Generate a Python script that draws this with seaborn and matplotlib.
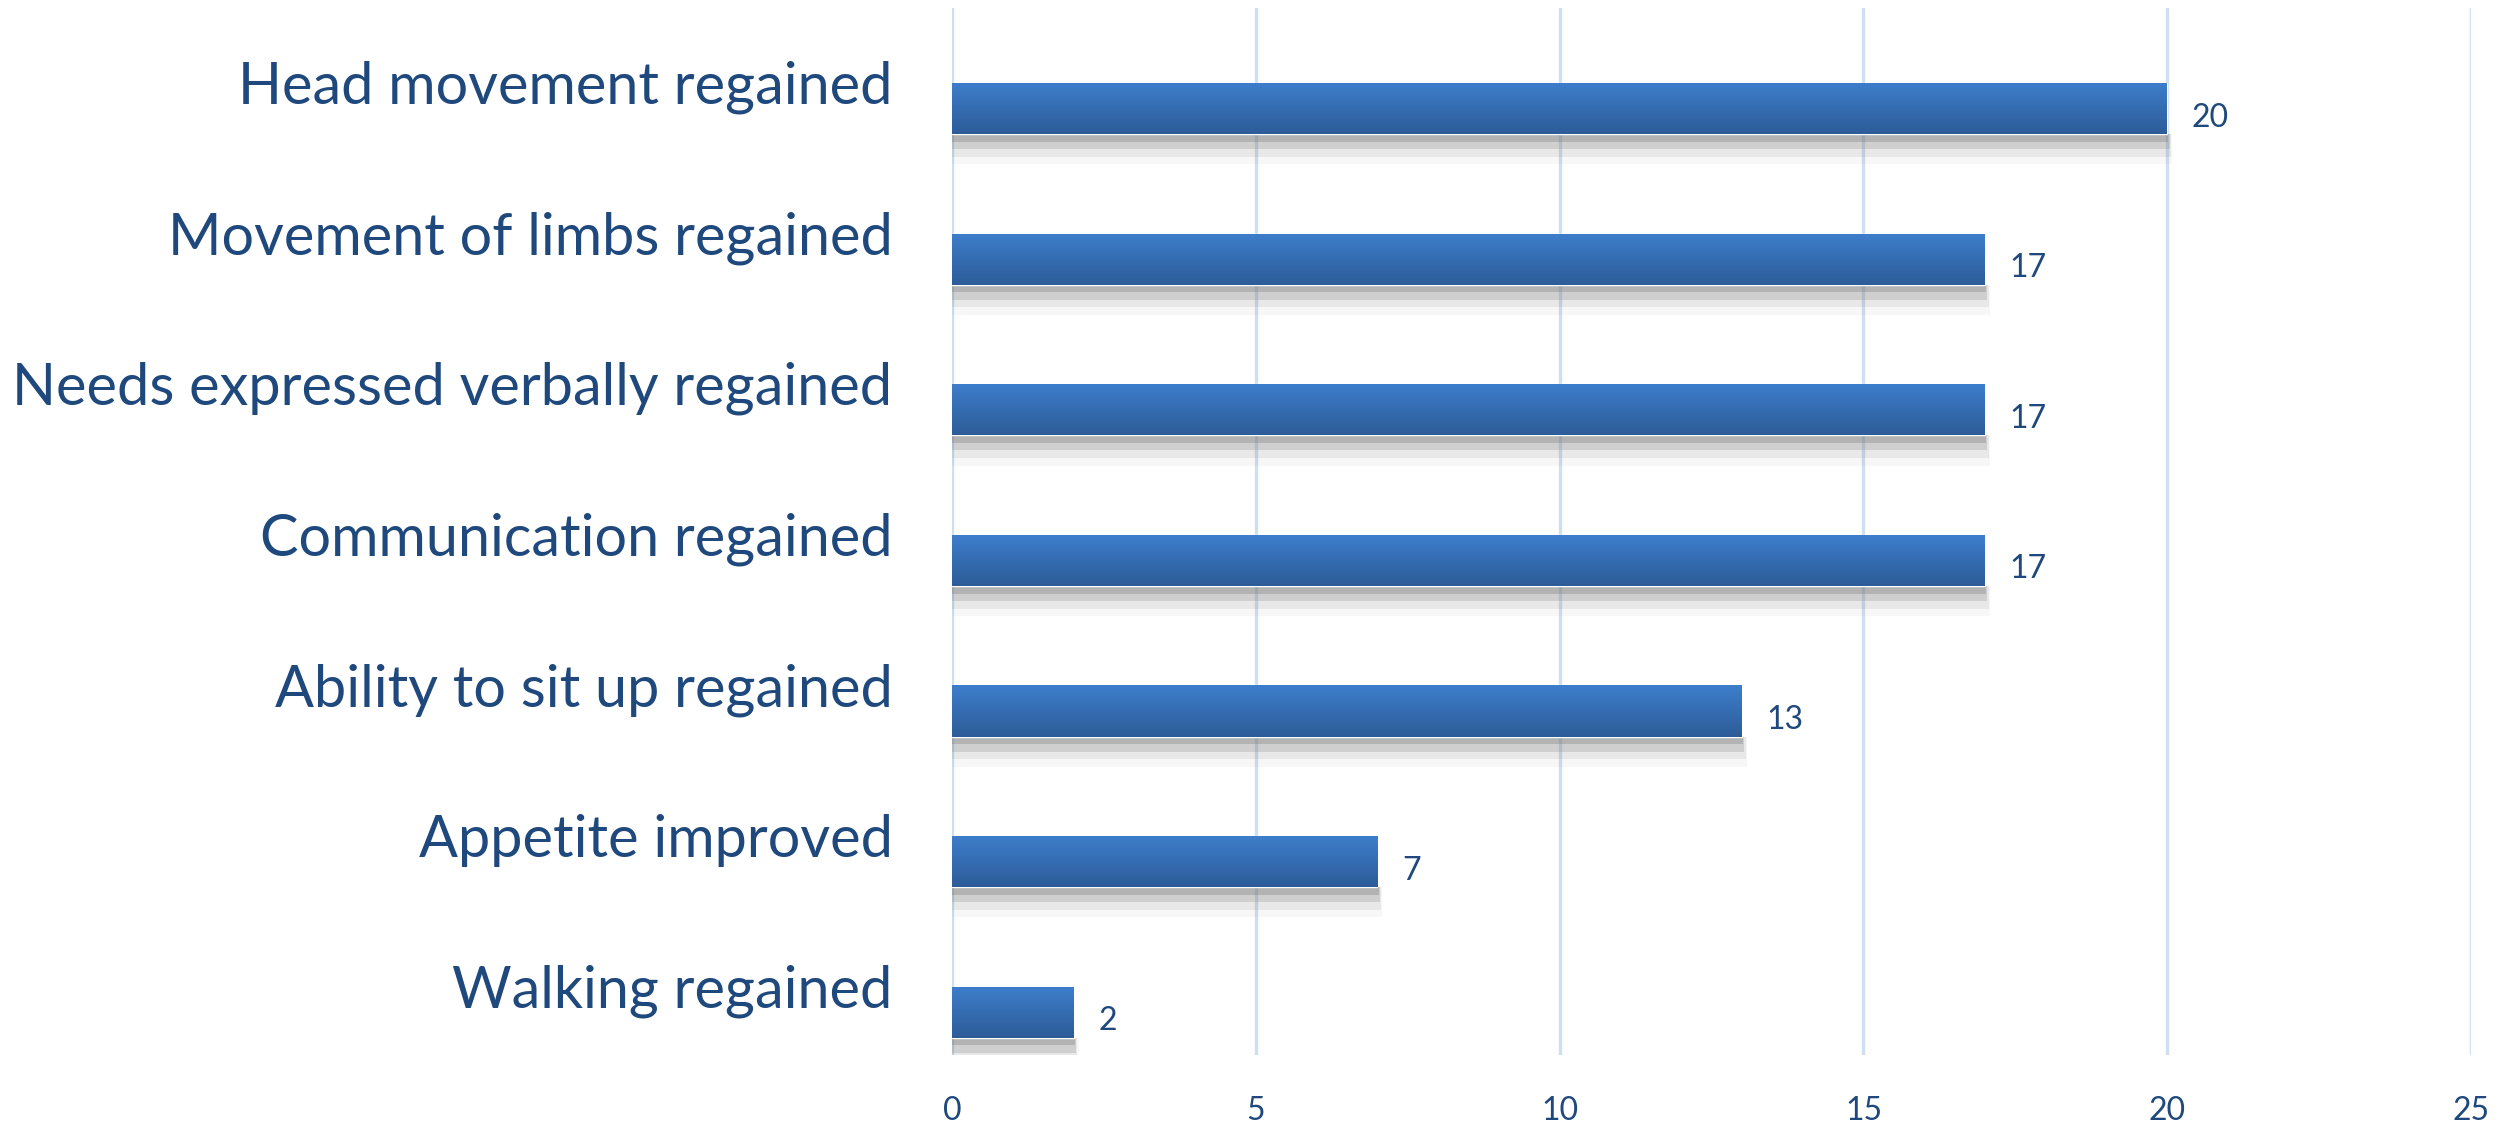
import numpy as np
import pandas as pd
import seaborn as sns
import matplotlib.pyplot as plt
import matplotlib.transforms as mtransforms
from matplotlib.patches import Rectangle

# ===== DATA =====
categories = [
    "Head movement regained",
    "Movement of limbs regained",
    "Needs expressed verbally regained",
    "Communication regained",
    "Ability to sit up regained",
    "Appetite improved",
    "Walking regained",
]
counts = [20, 17, 17, 17, 13, 7, 2]
x_ticks = [0, 5, 10, 15, 20, 25]

text_color = "#1F497D"
grid_color = "#CFDEF0"


def main():
    df = pd.DataFrame({"category": categories, "count": counts})

    sns.set_style("white")
    plt.rcParams["font.family"] = ["Lato", "DejaVu Sans"]

    fig = plt.figure(figsize=(25.06, 11.30), dpi=100)
    ax = fig.add_axes([0.380, 0.066, 0.606, 0.927])

    sns.barplot(data=df, x="count", y="category", orient="h",
                color="#3A78C3", width=0.34, ax=ax, zorder=3)

    # gradient fill + soft shadow on each bar
    grad = np.linspace(0, 1, 256).reshape(-1, 1)
    cmap = plt.matplotlib.colors.LinearSegmentedColormap.from_list(
        "bar", ["#3D7ECC", "#2D5C98"])
    for p in ax.patches:
        x0, y0 = p.get_x(), p.get_y()
        w, h = p.get_width(), p.get_height()
        for k, a in enumerate([0.35, 0.22, 0.12, 0.06]):
            ax.add_patch(Rectangle((x0, y0 + h), w + 0.02 * (k + 1), 0.05 * (k + 1),
                                   facecolor="#7f7f7f", alpha=a, edgecolor="none",
                                   zorder=2))
        im = ax.imshow(grad, cmap=cmap, aspect="auto",
                       extent=(x0, x0 + w, y0 + h, y0), zorder=4)
        im.set_clip_path(p)

    for i, v in enumerate(counts):
        ax.text(v + 0.4, i + 0.06, str(v), va="center", ha="left",
                fontsize=23, color=text_color)

    ax.set_xlim(0, 25)
    ax.set_ylim(6.287, -0.669)
    ax.set_xticks(x_ticks)
    ax.set_xticklabels([str(t) for t in x_ticks])
    ax.grid(axis="x", color=grid_color, linewidth=2.4, zorder=0)
    ax.set_axisbelow(True)
    for s in ax.spines.values():
        s.set_visible(False)

    ax.set_xlabel("")
    ax.set_ylabel("")
    ax.tick_params(axis="x", length=0, pad=29, labelsize=23, labelcolor=text_color)
    ax.tick_params(axis="y", length=0, pad=43, labelsize=41.5, labelcolor=text_color)
    # nudge category labels up a touch
    shift = mtransforms.ScaledTranslation(0, 5 / 100, fig.dpi_scale_trans)
    for lbl in ax.get_yticklabels():
        lbl.set_verticalalignment("baseline")
        lbl.set_transform(lbl.get_transform() + shift)

    fig.savefig("out.png", dpi=100)


if __name__ == "__main__":
    main()
